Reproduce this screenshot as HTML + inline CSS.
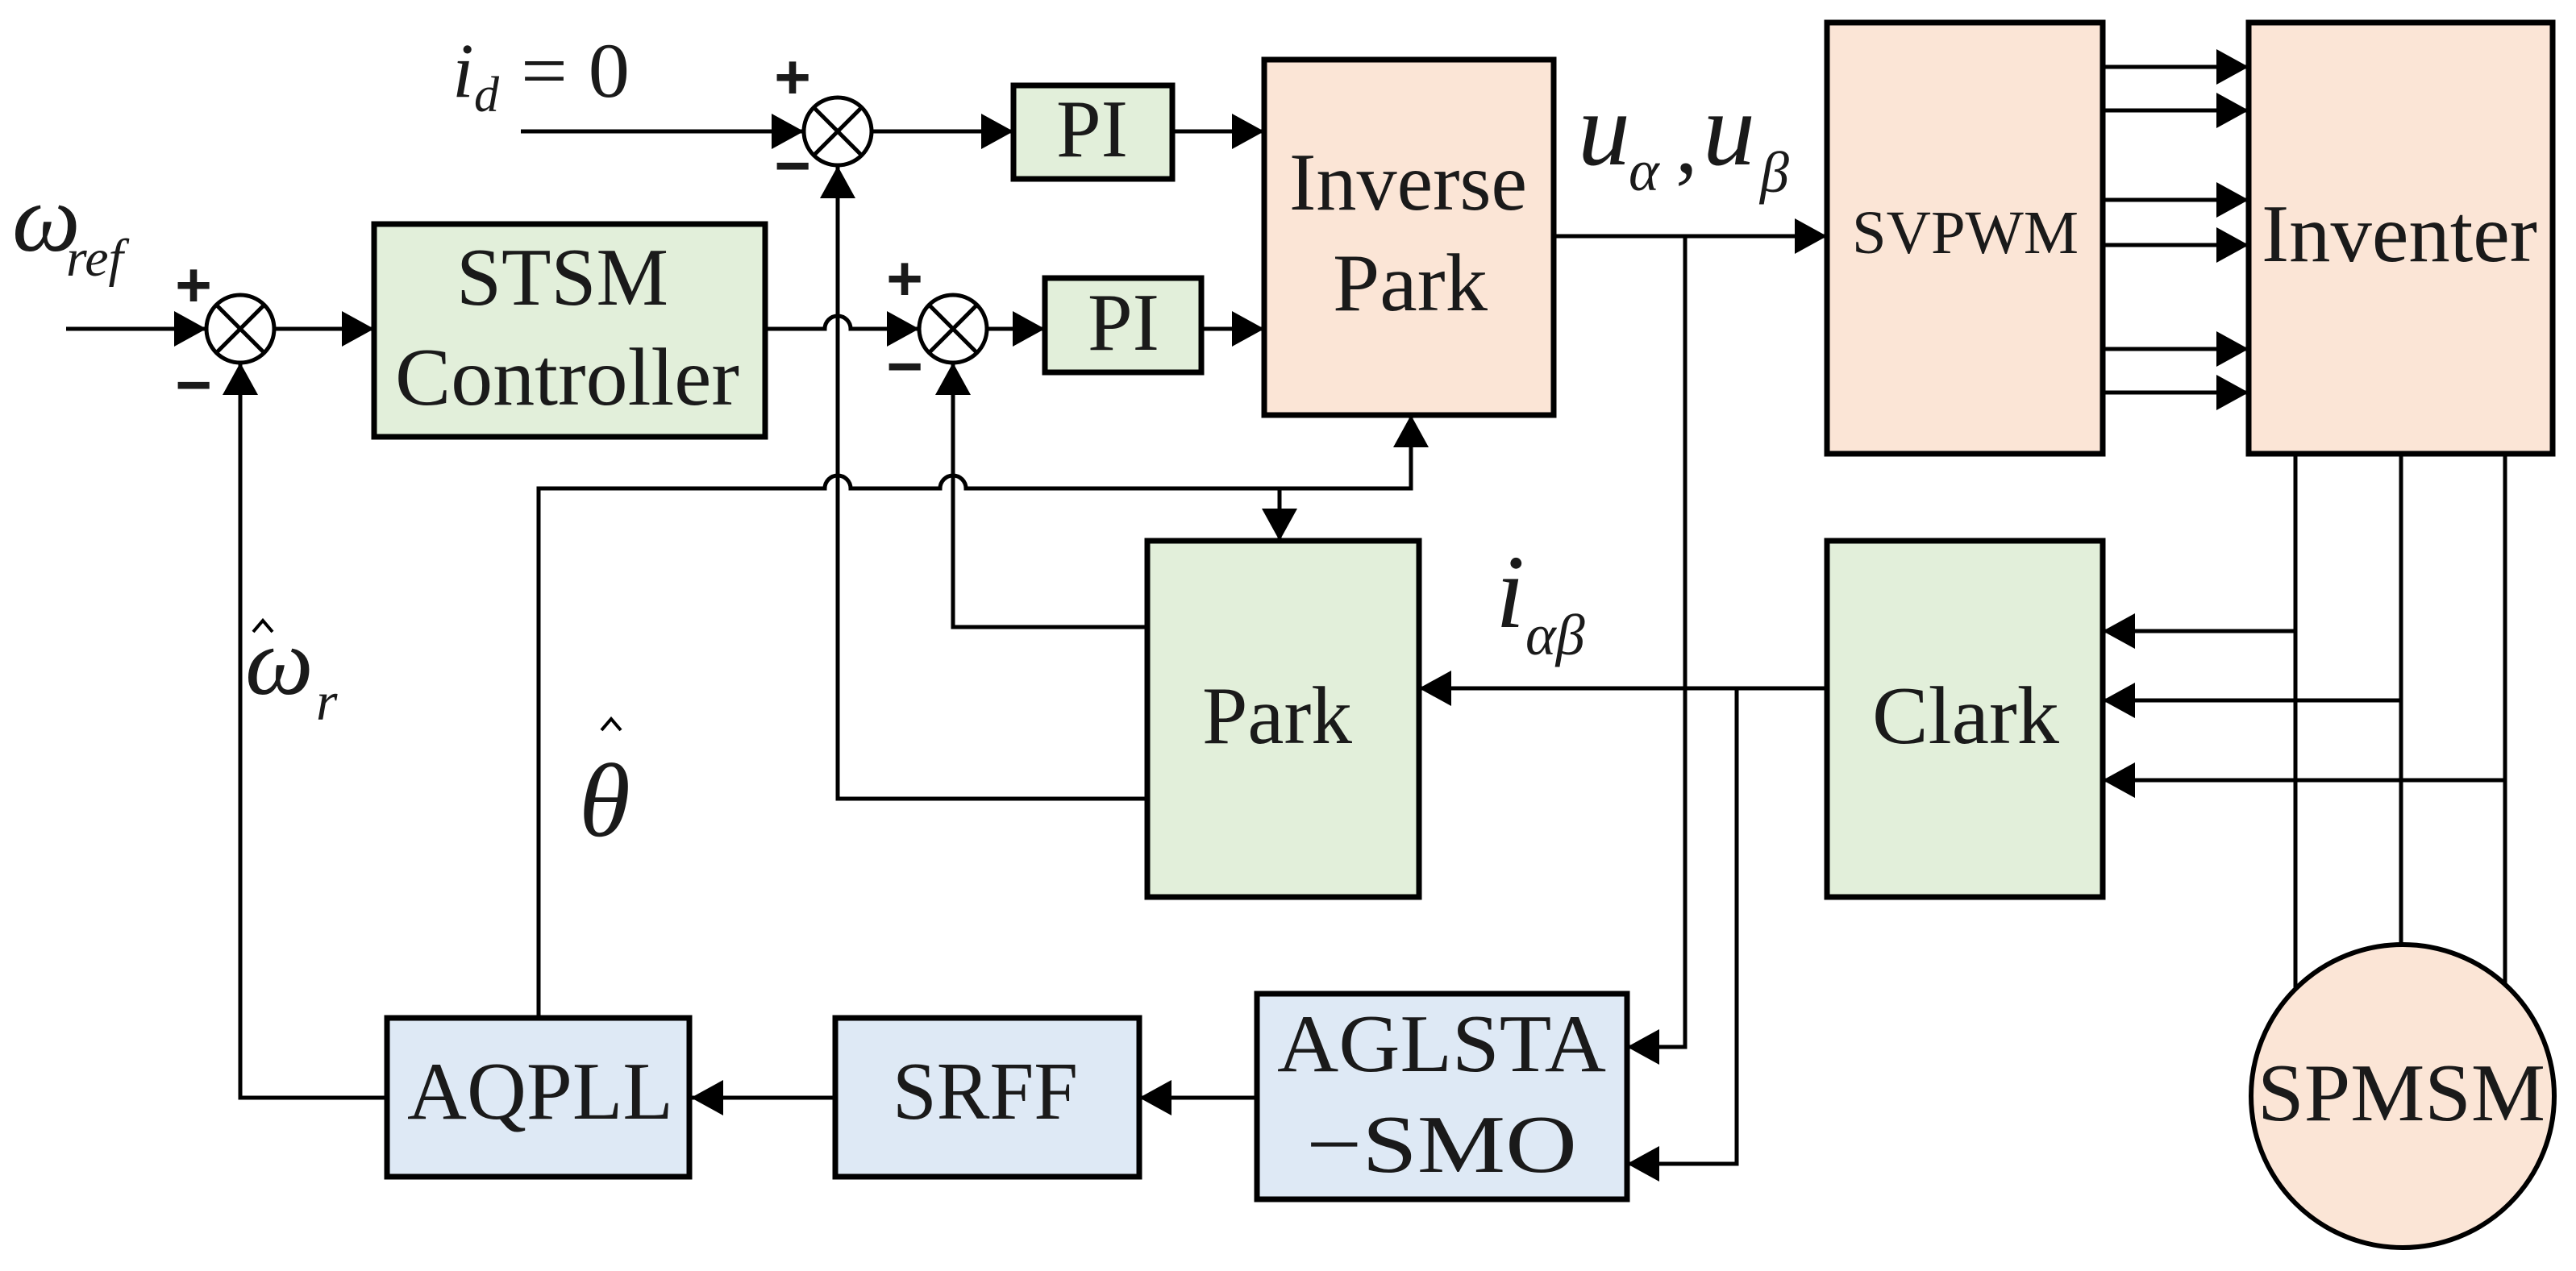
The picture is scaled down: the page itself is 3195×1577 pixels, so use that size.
<!DOCTYPE html>
<html><head><meta charset="utf-8"><style>
html,body{margin:0;padding:0;background:#fff;}
svg{display:block;}
text{font-family:"Liberation Serif","Times New Roman",serif;fill:#1a1a1a;}
.s{font-family:"Liberation Sans",sans-serif;font-weight:bold;}
</style></head><body>
<svg width="3195" height="1577" viewBox="0 0 3195 1577" xmlns="http://www.w3.org/2000/svg">
<g fill="none" stroke="#000" stroke-width="5">
<path d="M646 163H997"/>
<path d="M1081 163H1257"/>
<path d="M1454 163H1568"/>
<path d="M1490 408H1568"/>
<path d="M82 408H256"/>
<path d="M340 408H464"/>
<path d="M949 408H1023A16 16 0 0 1 1055 408H1140"/>
<path d="M1224 408H1296"/>
<path d="M1039 206V991H1423"/>
<path d="M1182 450V778H1423"/>
<path d="M668 1263V606H1023A16 16 0 0 1 1055 606H1166A16 16 0 0 1 1198 606H1750V515"/>
<path d="M1587 606V671"/>
<path d="M298 450V1362H480"/>
<path d="M1927 293H2266"/>
<path d="M2090 293V1299H2018"/>
<path d="M2266 854H1760"/>
<path d="M2154 854V1444H2018"/>
<path d="M1036 1362H857"/>
<path d="M1559 1362H1413"/>
<path d="M2608 83H2789M2608 137H2789M2608 248H2789M2608 304H2789M2608 433H2789M2608 487H2789"/>
<path d="M2847 563V1225M2978 563V1172M3107 563V1225"/>
<path d="M2847 783H2608M2978 869H2608M3107 968H2608"/>
<path d="M314 784L326 770L338 784M746 906L758 892L770 906" stroke-width="4"/>
</g>
<g stroke="#000" stroke-width="7">
<rect x="464" y="278" width="485" height="264" fill="#e2efda"/>
<rect x="1257" y="106" width="197" height="116" fill="#e2efda"/>
<rect x="1296" y="345" width="194" height="117" fill="#e2efda"/>
<rect x="1568" y="74" width="359" height="441" fill="#fbe5d6"/>
<rect x="2266" y="28" width="342" height="535" fill="#fbe5d6"/>
<rect x="2789" y="28" width="377" height="535" fill="#fbe5d6"/>
<rect x="1423" y="671" width="337" height="442" fill="#e2efda"/>
<rect x="2266" y="671" width="342" height="442" fill="#e2efda"/>
<rect x="480" y="1263" width="375" height="197" fill="#dee9f5"/>
<rect x="1036" y="1263" width="377" height="197" fill="#dee9f5"/>
<rect x="1559" y="1233" width="459" height="255" fill="#dee9f5"/>
<circle cx="2980" cy="1360" r="188" fill="#fbe5d6" stroke-width="6"/>
</g>
<g stroke="#000" stroke-width="5" fill="#fff">
<circle cx="1039" cy="163" r="42"/>
<circle cx="298" cy="408" r="42"/>
<circle cx="1182" cy="408" r="42"/>
<path d="M1009 133L1069 193M1069 133L1009 193M268 378L328 438M328 378L268 438M1152 378L1212 438M1212 378L1152 438"/>
</g>
<g fill="#000">
<polygon points="957,141 997,163 957,185"/>
<polygon points="216,386 256,408 216,430"/>
<polygon points="424,386 464,408 424,430"/>
<polygon points="1100,386 1140,408 1100,430"/>
<polygon points="1217,141 1257,163 1217,185"/>
<polygon points="1256,386 1296,408 1256,430"/>
<polygon points="1528,141 1568,163 1528,185"/>
<polygon points="1528,386 1568,408 1528,430"/>
<polygon points="2226,271 2266,293 2226,315"/>
<polygon points="2749,61 2789,83 2749,105"/>
<polygon points="2749,115 2789,137 2749,159"/>
<polygon points="2749,226 2789,248 2749,270"/>
<polygon points="2749,282 2789,304 2749,326"/>
<polygon points="2749,411 2789,433 2749,455"/>
<polygon points="2749,465 2789,487 2749,509"/>
<polygon points="897,1340 857,1362 897,1384"/>
<polygon points="1453,1340 1413,1362 1453,1384"/>
<polygon points="2058,1277 2018,1299 2058,1321"/>
<polygon points="2058,1422 2018,1444 2058,1466"/>
<polygon points="1800,832 1760,854 1800,876"/>
<polygon points="2648,761 2608,783 2648,805"/>
<polygon points="2648,847 2608,869 2648,891"/>
<polygon points="2648,946 2608,968 2648,990"/>
<polygon points="1017,246 1039,206 1061,246"/>
<polygon points="1160,490 1182,450 1204,490"/>
<polygon points="276,490 298,450 320,490"/>
<polygon points="1728,555 1750,515 1772,555"/>
<polygon points="1565,631 1587,671 1609,631"/>
</g>
<g font-size="78">
<text x="983" y="122" text-anchor="middle" class="s">+</text>
<text x="983" y="232" text-anchor="middle" class="s">−</text>
<text x="240" y="380" text-anchor="middle" class="s">+</text>
<text x="240" y="504" text-anchor="middle" class="s">−</text>
<text x="1122" y="372" text-anchor="middle" class="s">+</text>
<text x="1122" y="481" text-anchor="middle" class="s">−</text>
</g>
<g font-size="102" lengthAdjust="spacingAndGlyphs">
<text x="566" y="378" textLength="263" lengthAdjust="spacingAndGlyphs">STSM</text>
<text x="490" y="502" textLength="427" lengthAdjust="spacingAndGlyphs">Controller</text>
<text x="1310" y="194" textLength="89" lengthAdjust="spacingAndGlyphs">PI</text>
<text x="1349" y="434" textLength="89" lengthAdjust="spacingAndGlyphs">PI</text>
<text x="1599" y="260" textLength="295" lengthAdjust="spacingAndGlyphs">Inverse</text>
<text x="1653" y="385" textLength="192" lengthAdjust="spacingAndGlyphs">Park</text>
<text x="2297" y="314" font-size="76" textLength="281" lengthAdjust="spacingAndGlyphs">SVPWM</text>
<text x="2805" y="324" textLength="342" lengthAdjust="spacingAndGlyphs">Inventer</text>
<text x="1491" y="922" textLength="186" lengthAdjust="spacingAndGlyphs">Park</text>
<text x="2322" y="922" textLength="232" lengthAdjust="spacingAndGlyphs">Clark</text>
<text x="505" y="1388" textLength="330" lengthAdjust="spacingAndGlyphs">AQPLL</text>
<text x="1107" y="1388" textLength="230" lengthAdjust="spacingAndGlyphs">SRFF</text>
<text x="1584" y="1329" textLength="408" lengthAdjust="spacingAndGlyphs">AGLSTA</text>
<text x="1620" y="1454" textLength="336" lengthAdjust="spacingAndGlyphs">−SMO</text>
<text x="2800" y="1390" textLength="357" lengthAdjust="spacingAndGlyphs">SPMSM</text>
</g>
<text x="561" y="120" font-size="96" font-style="italic">i</text>
<text x="588" y="138" font-size="62" font-style="italic">d</text>
<text x="646" y="120" font-size="96" textLength="135" lengthAdjust="spacingAndGlyphs">= 0</text>
<text x="15" y="311" font-size="120" font-style="italic">ω</text>
<text x="82" y="342" font-size="66" font-style="italic">ref</text>
<text x="1957" y="204" font-size="130" font-style="italic">u</text>
<text x="2020" y="236" font-size="72" font-style="italic">α</text>
<text x="2078" y="214" font-size="110">,</text>
<text x="2112" y="204" font-size="130" font-style="italic">u</text>
<text x="2183" y="238" font-size="72" font-style="italic">β</text>
<text x="1855" y="778" font-size="130" font-style="italic">i</text>
<text x="1892" y="812" font-size="72" font-style="italic">αβ</text>
<text x="304" y="861" font-size="120" font-style="italic">ω</text>
<text x="392" y="893" font-size="68" font-style="italic">r</text>
<text x="718" y="1037" font-size="130" font-style="italic">θ</text>
</svg>
</body></html>
